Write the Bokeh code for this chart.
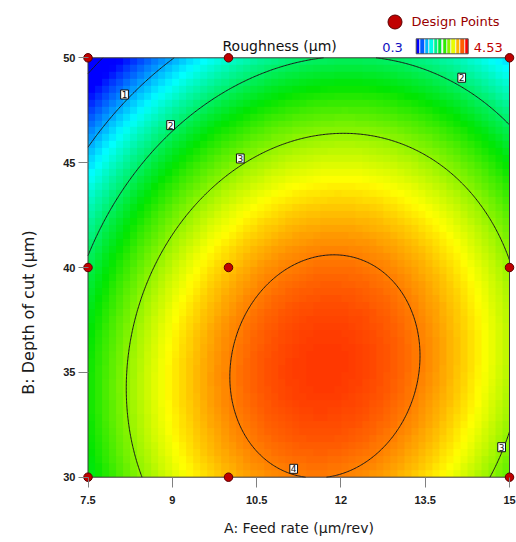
import numpy as np
from bokeh.plotting import figure
from bokeh.layouts import row
from bokeh.models import (Range1d, FixedTicker, LinearColorMapper, ColorBar,
                          Label, Legend, LegendItem)
from bokeh.core.properties import value
from bokeh.embed import file_html
from bokeh.resources import INLINE

# ---------------- values ----------------
feed_rate = [7.5, 9.0, 10.5, 12.0, 13.5, 15.0]            # A: Feed rate (µm/rev)
feed_rate_labels = ["7.5", "9", "10.5", "12", "13.5", "15"]
depth_of_cut = [30, 35, 40, 45, 50]                         # B: Depth of cut (µm)
depth_labels = ["30", "35", "40", "45", "50"]

# predicted roughness (µm) read at every tick crossing, one list per depth of cut
roughness_d30 = [2.28, 3.32, 3.89, 3.98, 3.61, 2.76]
roughness_d35 = [2.44, 3.53, 4.14, 4.29, 3.96, 3.16]
roughness_d40 = [2.07, 3.21, 3.87, 4.06, 3.78, 3.03]
roughness_d45 = [1.18, 2.36, 3.07, 3.31, 3.07, 2.37]
roughness_d50 = [-0.25, 0.98, 1.73, 2.02, 1.83, 1.18]

design_feed = [7.5, 10, 15, 7.5, 10, 15, 7.5, 10, 15]
design_depth = [50, 50, 50, 40, 40, 40, 30, 30, 30]

contour_levels = [0, 1, 2, 3, 4]
label_feed = [8.15, 8.97, 14.15, 10.21, 14.86, 11.16]
label_depth = [48.25, 46.79, 49.05, 45.20, 31.43, 30.40]
label_text = ["1", "2", "2", "3", "3", "4"]

scale_low, scale_high = 0.3, 4.53

# ---------------- response surface (quadratic fitted to the readings) ----------------
x0, x1 = min(feed_rate), max(feed_rate)
y0, y1 = min(depth_of_cut), max(depth_of_cut)
xc, xh = (x0 + x1) / 2, (x1 - x0) / 2
yc, yh = (y0 + y1) / 2, (y1 - y0) / 2


def terms(a, b):
    return np.stack([np.ones_like(a), a, b, a * b, a * a, b * b], axis=-1)


GX, GY = np.meshgrid(np.array(feed_rate, float), np.array(depth_of_cut, float))
GZ = np.array([roughness_d30, roughness_d35, roughness_d40, roughness_d45, roughness_d50])
coef, *_ = np.linalg.lstsq(terms(((GX - xc) / xh).ravel(), ((GY - yc) / yh).ravel()),
                           GZ.ravel(), rcond=None)


def surface(x, y):
    return terms((x - xc) / xh, (y - yc) / yh) @ coef


# colour ramp blue-cyan-green-yellow-red
stops_t = [0, 0.25, 0.5, 0.75, 1]
stops_rgb = [(0, 0, 255), (0, 255, 255), (0, 230, 0), (255, 255, 0), (255, 0, 0)]


def ramp(t):
    r = np.interp(t, stops_t, [c[0] for c in stops_rgb])
    g = np.interp(t, stops_t, [c[1] for c in stops_rgb])
    b = np.interp(t, stops_t, [c[2] for c in stops_rgb])
    return "#%02x%02x%02x" % (int(round(r)), int(round(g)), int(round(b)))


palette = [ramp(t) for t in np.linspace(0, 1, 256)]
mapper = LinearColorMapper(palette=palette, low=scale_low, high=scale_high)

# ---------------- layout (pixels) ----------------
H = 540
WL = 40                      # strip holding the vertical axis title
WM = 516 - WL                # main figure
FL = 42                      # main frame left (inside main figure)
FB = 57                      # space under the frame
frame_h = H - FB             # frame spans from the top of the canvas
px_x = 421.5 / (x1 - x0)
px_y = 419.4 / (y1 - y0)
box_top = 57.3               # page y of the top of the contour box

p = figure(width=WM, height=H, title=None, output_backend="svg", toolbar_location=None,
           x_range=Range1d(x0 - 5.5 / px_x, x1 + 6.0 / px_x),
           y_range=Range1d(y0 - 6.3 / px_y, y1 + box_top / px_y),
           min_border_left=FL, min_border_right=1, min_border_top=0, min_border_bottom=FB)
p.xgrid.visible = False
p.ygrid.visible = False
p.outline_line_color = None
p.background_fill_color = "white"
p.border_fill_color = "white"

n_img = 60
xi = x0 + (np.arange(n_img) + 0.5) * (x1 - x0) / n_img
yi = y0 + (np.arange(n_img) + 0.5) * (y1 - y0) / n_img
XI, YI = np.meshgrid(xi, yi)
p.image(image=[surface(XI, YI)], x=x0, y=y0, dw=x1 - x0, dh=y1 - y0, color_mapper=mapper)

xf = np.linspace(x0, x1, 301)
yf = np.linspace(y0, y1, 301)
XF, YF = np.meshgrid(xf, yf)
p.contour(xf, yf, surface(XF, YF), contour_levels, line_color="#1a1a1a", line_width=1)

p.quad(left=x0, right=x1, bottom=y0, top=y1, fill_color=None, line_color="#3a3a3a", line_width=1)

p.text(x=label_feed, y=label_depth, text=label_text, text_font=value("DejaVu Sans"),
       text_font_size="9px", text_align="center", text_baseline="middle", text_color="#111111",
       background_fill_color="white", border_line_color="#111111", padding=1)

pts = p.scatter(design_feed, design_depth, marker="circle", size=8.5,
                fill_color="#c00000", line_color="#5a0000", line_width=1)

# axes
p.xaxis.ticker = FixedTicker(ticks=feed_rate)
p.xaxis.major_label_overrides = dict(zip(feed_rate, feed_rate_labels))
p.yaxis.ticker = FixedTicker(ticks=depth_of_cut)
p.yaxis.major_label_overrides = dict(zip(depth_of_cut, depth_labels))
for ax in (p.xaxis[0], p.yaxis[0]):
    ax.axis_line_color = None
    ax.major_tick_line_color = "#808080"
    ax.major_tick_in = 6
    ax.major_tick_out = 4
    ax.minor_tick_line_color = None
    ax.major_label_text_font = "Liberation Sans"
    ax.major_label_text_font_size = "11px"
    ax.major_label_text_font_style = "bold"
    ax.major_label_text_color = "#202020"
p.xaxis.major_label_standoff = 8
p.yaxis.major_label_standoff = 3
p.xaxis.axis_label = "A: Feed rate (µm/rev)"
p.xaxis.axis_label_text_font = "DejaVu Sans"
p.xaxis.axis_label_text_font_size = "14px"
p.xaxis.axis_label_text_font_style = "normal"
p.xaxis.axis_label_text_color = "#1a1a1a"
p.xaxis.axis_label_standoff = 13

# header texts (inside the frame, positions relative to its lower-left corner)
left_px = FL + WL  # page x of the frame's left edge


def hx(page_x):
    return page_x - left_px


def hy(page_y):
    return frame_h - page_y


p.add_layout(Label(x=hx(222), y=hy(45), x_units="screen", y_units="screen",
                   text="Roughness (µm)", text_align="left", text_baseline="middle",
                   text_font="DejaVu Sans", text_font_size="14px", text_color="#111111"))
p.add_layout(Label(x=hx(381.7), y=hy(46.7), x_units="screen", y_units="screen",
                   text="0.3", text_align="left", text_baseline="middle",
                   text_font="DejaVu Sans", text_font_size="13px", text_color="#1010c0"))
p.add_layout(Label(x=hx(473.3), y=hy(46.7), x_units="screen", y_units="screen",
                   text="4.53", text_align="left", text_baseline="middle",
                   text_font="DejaVu Sans", text_font_size="13px", text_color="#c00000"))

# striped colour key
stripe_cols = [ramp(t) for t in np.linspace(0, 1, 12)]
stripe_pal = []
for i, c in enumerate(stripe_cols):
    stripe_pal += [c, c, c]
    if i < len(stripe_cols) - 1:
        stripe_pal.append("#f4f4f4")
cb = ColorBar(color_mapper=LinearColorMapper(palette=stripe_pal, low=scale_low, high=scale_high),
              orientation="horizontal", location=(hx(415.7), hy(53.3)), width=52, height=15,
              padding=0, ticker=FixedTicker(ticks=[]), major_tick_line_color=None,
              minor_tick_line_color=None, major_label_text_font_size="0px", label_standoff=0,
              title=None, background_fill_alpha=0, border_line_color=None,
              bar_line_color="#505050")
p.add_layout(cb)

legend = Legend(items=[LegendItem(label="Design Points", renderers=[pts])],
                location=(hx(376.5), hy(38.5)), glyph_width=35, glyph_height=35,
                label_standoff=0, padding=0, spacing=0, margin=0, border_line_color=None,
                background_fill_alpha=0, label_text_font="DejaVu Sans",
                label_text_font_size="13px", label_text_color="#990000", label_height=35)
p.add_layout(legend)

# strip with the vertical axis title (same frame height as the main figure)
q = figure(width=WL, height=H, title=None, output_backend="svg", toolbar_location=None,
           x_range=Range1d(0, 1), y_range=Range1d(0, 1),
           min_border_left=0, min_border_right=0, min_border_top=0, min_border_bottom=FB)
q.xaxis.visible = False
q.yaxis.visible = False
q.xgrid.visible = False
q.ygrid.visible = False
q.outline_line_color = None
q.add_layout(Label(x=28.3, y=hy(312), x_units="screen", y_units="screen",
                   text="B: Depth of cut (µm)", angle=90, angle_units="deg",
                   text_align="center", text_baseline="middle",
                   text_font="DejaVu Sans", text_font_size="16px", text_color="#1a1a1a"))

layout = row(q, p)
open("out.html", "w").write(file_html(layout, INLINE))
